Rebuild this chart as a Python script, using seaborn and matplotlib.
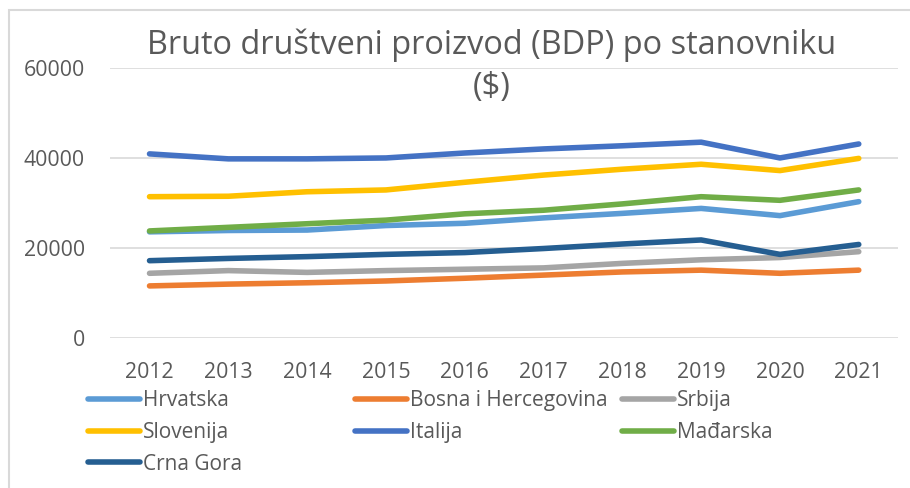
import matplotlib
matplotlib.use("Agg")
import matplotlib.pyplot as plt
from matplotlib.patches import Rectangle
import seaborn as sns
import pandas as pd

# GDP per capita ($), 2012-2021
years = [2012, 2013, 2014, 2015, 2016, 2017, 2018, 2019, 2020, 2021]
hrvatska = [23600, 23900, 24000, 25000, 25500, 26700, 27700, 28800, 27200, 30300]
bosna = [11600, 12000, 12300, 12700, 13300, 14000, 14700, 15100, 14400, 15100]
srbija = [14400, 15000, 14600, 15000, 15300, 15600, 16600, 17400, 17900, 19200]
slovenija = [31400, 31500, 32500, 32900, 34600, 36200, 37500, 38600, 37200, 39900]
italija = [40900, 39800, 39800, 40000, 41100, 42000, 42700, 43500, 40000, 43100]
madjarska = [23800, 24600, 25400, 26200, 27600, 28400, 29800, 31400, 30600, 32900]
crna_gora = [17200, 17700, 18100, 18600, 19000, 19900, 20900, 21800, 18600, 20800]

countries = ["Hrvatska", "Bosna i Hercegovina", "Srbija", "Slovenija",
             "Italija", "Mađarska", "Crna Gora"]
series = [hrvatska, bosna, srbija, slovenija, italija, madjarska, crna_gora]
colors = ["#5B9BD5", "#ED7D31", "#A5A5A5", "#FFC000",
          "#4472C4", "#70AD47", "#255E91"]

df = pd.DataFrame(
    [(c, y, v) for c, vals in zip(countries, series) for y, v in zip(years, vals)],
    columns=["Država", "Godina", "BDP"],
)

sns.set_theme(style="white")
plt.rcParams["font.family"] = ["Open Sans", "DejaVu Sans"]
text_color = "#595959"

fig = plt.figure(figsize=(9.1, 4.88), dpi=100)
ax = fig.add_axes([0.121, 0.307, 0.987 - 0.121, 0.861 - 0.307])

sns.lineplot(data=df, x="Godina", y="BDP", hue="Država", hue_order=countries,
             palette=colors, linewidth=4, sort=False, legend=False, ax=ax,
             solid_capstyle="round", solid_joinstyle="round")

ax.set_xlim(2011.5, 2021.5)
ax.set_ylim(0, 60000)
ax.set_yticks([0, 20000, 40000, 60000])
ax.set_xticks(years)
ax.set_xlabel("")
ax.set_ylabel("")
ax.grid(axis="y", color="#D9D9D9", linewidth=1.2)
ax.set_axisbelow(True)
for s in ax.spines.values():
    s.set_visible(False)
ax.tick_params(axis="both", length=0, labelsize=15.3, colors=text_color)
ax.tick_params(axis="y", pad=18)
ax.tick_params(axis="x", pad=17)

fig.text(0.54, 1 - 66 / 488, "Bruto društveni proizvod (BDP) po stanovniku\n($)",
         ha="center", va="center", fontsize=23.4, color=text_color, linespacing=1.38)

# Legend laid out in three equal-width columns, filled row by row
columns = [[0, 3, 6], [1, 4], [2, 5]]
col_x = [88 / 910, 355 / 910, 622 / 910]
for xs, idx in zip(col_x, columns):
    handles = [plt.Line2D([], [], color=colors[i], linewidth=4,
                          solid_capstyle="round") for i in idx]
    labels = [countries[i] for i in idx]
    fig.legend(handles, labels, loc="upper left",
               bbox_to_anchor=(xs, 1 - 390 / 488), frameon=False,
               fontsize=15, handlelength=2.5, handletextpad=0.15,
               labelspacing=0.52, borderaxespad=0, borderpad=0,
               labelcolor=text_color)

fig.patches.append(Rectangle((9 / 910, -0.1), 1.2, 1 - 10 / 488 + 0.1,
                             transform=fig.transFigure, fill=False,
                             edgecolor="#D9D9D9", linewidth=1.5))

fig.savefig("out.png", dpi=100)
